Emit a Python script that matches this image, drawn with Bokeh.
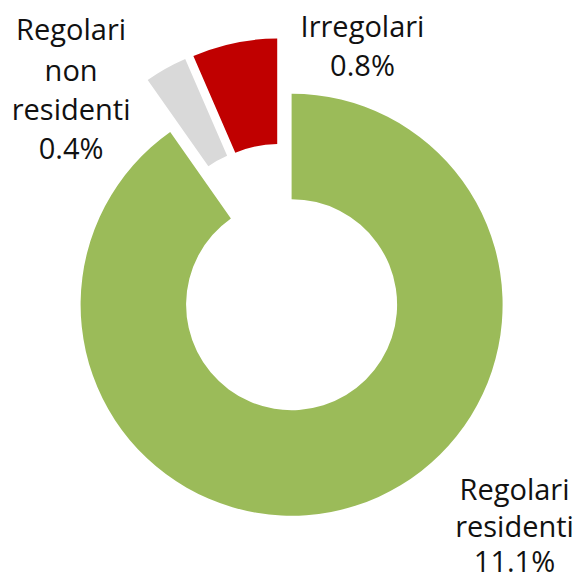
import math
from bokeh.plotting import figure
from bokeh.models import Range1d, ColumnDataSource
from bokeh.core.properties import value
from bokeh.embed import file_html
from bokeh.resources import INLINE

# ---------------- data ----------------
categories = ["Regolari residenti", "Regolari non residenti", "Irregolari"]
shares = [11.1, 0.4, 0.8]           # % values, clockwise from 12 o'clock
share_labels = ["11.1%", "0.4%", "0.8%"]
name_lines = [["Regolari", "residenti"], ["Regolari", "non", "residenti"], ["Irregolari"]]
colors = ["#9BBB59", "#D9D9D9", "#C00000"]

# ---------------- style ----------------
W, H = 575, 579
CX, CY = 282.5, 302.0        # donut centre (data units = pixels, y up)
R_OUT, R_IN = 211.0, 105.5
EXPLODE = 28.5
FONT = "Open Sans"
FSIZE = "29px"
# label anchors: x centre and baselines (y up)
label_x = [514.0, 70.6, 362.0]
label_base = [[91.0, 54.0, 19.0], [551.5, 510.5, 471.0, 432.5], [554.5, 515.0]]

total = sum(shares)
cum = [0.0]
for s in shares:
    cum.append(cum[-1] + s)

xs, ys, starts, ends = [], [], [], []
for i in range(len(shares)):
    a_start = 90.0 - 360.0 * cum[i + 1] / total
    a_end = 90.0 - 360.0 * cum[i] / total
    mid = math.radians((a_start + a_end) / 2.0)
    xs.append(CX + EXPLODE * math.cos(mid))
    ys.append(CY + EXPLODE * math.sin(mid))
    starts.append(math.radians(a_start))
    ends.append(math.radians(a_end))

src = ColumnDataSource(dict(x=xs, y=ys, start=starts, end=ends, color=colors, cat=categories))

p = figure(width=W, height=H, output_backend="svg", toolbar_location=None,
           x_range=Range1d(0, W), y_range=Range1d(0, H),
           min_border=0, outline_line_color=None)
p.axis.visible = False
p.grid.visible = False
p.background_fill_color = "white"
p.border_fill_color = "white"

p.annular_wedge(x="x", y="y", inner_radius=R_IN, outer_radius=R_OUT,
                start_angle="start", end_angle="end", direction="anticlock",
                fill_color="color", line_color=None, source=src)

tx, ty, tt = [], [], []
for i in range(len(shares)):
    lines = name_lines[i] + [share_labels[i]]
    for k, ln in enumerate(lines):
        tx.append(label_x[i])
        ty.append(label_base[i][k])
        tt.append(ln)

p.text(x=tx, y=ty, text=tt, text_align="center", text_baseline="alphabetic",
       text_font=value(FONT), text_font_size=FSIZE, text_color="#111111")

open("out.html", "w").write(file_html(p, INLINE))
